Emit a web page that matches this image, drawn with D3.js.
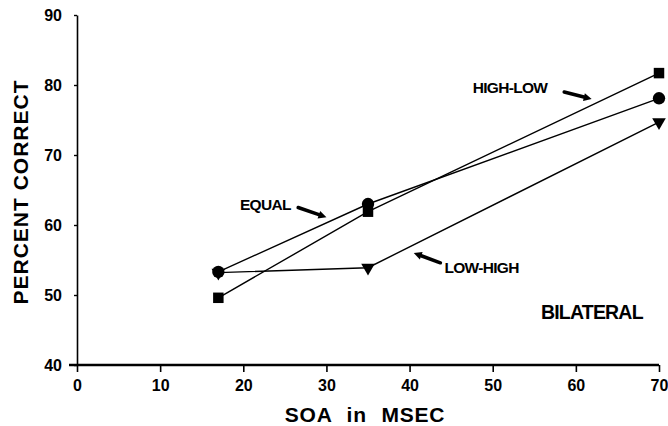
<!DOCTYPE html>
<html>
<head>
<meta charset="utf-8">
<script src="https://cdn.jsdelivr.net/npm/d3@7"></script>
<style>
  html, body { margin: 0; padding: 0; background: #fff; }
  svg { display: block; font-family: 'Liberation Sans', Arial, sans-serif; }
</style>
</head>
<body>
<div id="chart"></div>
<script>
// SOA values (msec) and percent correct per condition
const soa = [17, 35, 70];
const highLow = [49.6, 61.9, 81.7];
const equal = [53.3, 63.0, 78.1];
const lowHigh = [53.2, 53.9, 74.7];
const xTicks = [0, 10, 20, 30, 40, 50, 60, 70];
const yTicks = [40, 50, 60, 70, 80, 90];

const W = 668, H = 426;
const M = { top: 15, right: 9, bottom: 61, left: 77 };
const iW = W - M.left - M.right, iH = H - M.top - M.bottom;

const svg = d3.select('#chart').append('svg').attr('width', W).attr('height', H);
const g = svg.append('g').attr('transform', `translate(${M.left},${M.top})`);

const x = d3.scaleLinear().domain([0, 70]).range([0, iW]);
const y = d3.scaleLinear().domain([40, 90]).range([iH, 0]);

// ── axes ──────────────────────────
const xAx = g.append('g').attr('transform', `translate(0,${iH})`)
     .call(d3.axisBottom(x).tickValues(xTicks).tickSize(7).tickPadding(8).tickSizeOuter(0));
xAx.select('.domain').attr('stroke-width', 2.6).attr('d', `M-8,0H${iW}`);
xAx.selectAll('line').attr('stroke-width', 1.6);
xAx.selectAll('text').attr('font-size', '16px').attr('font-weight', 'bold').attr('fill', '#000');

const yAx = g.append('g')
     .call(d3.axisLeft(y).tickValues(yTicks).tickSize(3).tickPadding(12).tickSizeOuter(0));
yAx.select('.domain').attr('stroke-width', 1.6);
yAx.selectAll('line').attr('stroke-width', 1.4);
yAx.selectAll('text').attr('font-size', '16px').attr('font-weight', 'bold').attr('fill', '#000');

svg.append('text')
     .attr('transform', `translate(28,${M.top + iH / 2 + 2}) rotate(-90)`)
     .attr('text-anchor', 'middle')
     .attr('font-size', '21px').attr('font-weight', 'bold').attr('letter-spacing', '1px')
     .text('PERCENT CORRECT');

svg.append('text')
     .attr('x', 365).attr('y', 422)
     .attr('text-anchor', 'middle')
     .attr('font-size', '21px').attr('font-weight', 'bold').attr('word-spacing', '8px').attr('letter-spacing', '0.8px')
     .text('SOA in MSEC');

// ── series ────────────────────────
const line = d3.line().x((d, i) => x(soa[i])).y(d => y(d));
const series = [
     { name: 'HIGH-LOW', vals: highLow, sym: d3.symbolSquare, size: 110, rot: 0 },
     { name: 'EQUAL', vals: equal, sym: d3.symbolCircle, size: 120, rot: 0 },
     { name: 'LOW-HIGH', vals: lowHigh, sym: d3.symbolTriangle, size: 80, rot: 180 }
];

series.forEach(s => {
     g.append('path').datum(s.vals).attr('d', line)
          .attr('fill', 'none').attr('stroke', '#000').attr('stroke-width', 1.4);
});
series.slice().reverse().forEach(s => {
     g.selectAll(null).data(s.vals).join('path')
          .attr('transform', (d, i) => `translate(${x(soa[i])},${y(d)}) rotate(${s.rot})`)
          .attr('d', d3.symbol().type(s.sym).size(s.size))
          .attr('fill', '#000');
});

// ── annotations (data units) ──────
const notes = [
     { text: 'HIGH-LOW', tx: 47.6, ty: 78.9, from: [58.6, 79.0], to: [61.9, 78.0] },
     { text: 'EQUAL', tx: 19.6, ty: 62.2, from: [26.6, 62.5], to: [30.0, 61.1] },
     { text: 'LOW-HIGH', tx: 44.2, ty: 53.1, from: [43.7, 54.6], to: [40.5, 56.0] }
];
notes.forEach(n => {
     g.append('text').attr('x', x(n.tx)).attr('y', y(n.ty))
          .attr('font-size', '15.5px').attr('font-weight', 'bold').attr('letter-spacing', '-0.7px')
          .text(n.text);
     const x1 = x(n.from[0]), y1 = y(n.from[1]), x2 = x(n.to[0]), y2 = y(n.to[1]);
     const ang = Math.atan2(y2 - y1, x2 - x1);
     const hl = 8, hw = 4;
     const bx = x2 - hl * Math.cos(ang), by = y2 - hl * Math.sin(ang);
     g.append('line').attr('x1', x1).attr('y1', y1).attr('x2', bx).attr('y2', by)
          .attr('stroke', '#000').attr('stroke-width', 3.5).attr('stroke-linecap', 'round');
     g.append('path')
          .attr('d', `M${x2},${y2}L${bx + hw * Math.sin(ang)},${by - hw * Math.cos(ang)}L${bx - hw * Math.sin(ang)},${by + hw * Math.cos(ang)}Z`)
          .attr('fill', '#000');
});

g.append('text').attr('x', x(55.8)).attr('y', y(46.6))
     .attr('font-size', '19.5px').attr('font-weight', 'bold').attr('letter-spacing', '-0.8px')
     .text('BILATERAL');
</script>
</body>
</html>
